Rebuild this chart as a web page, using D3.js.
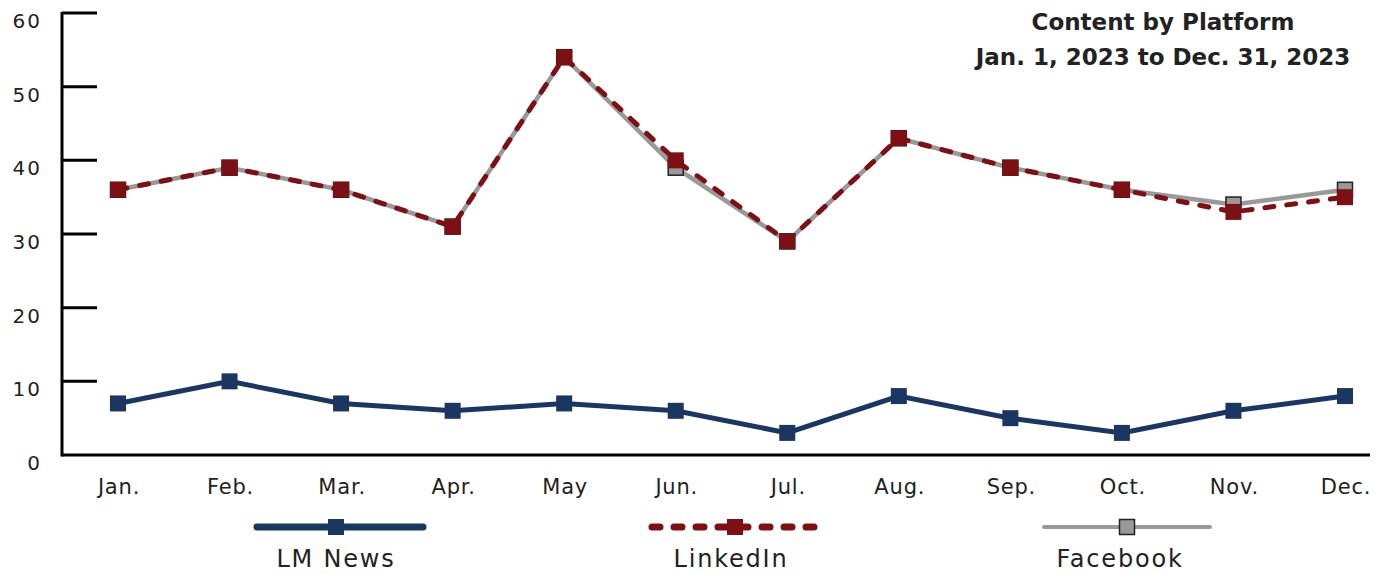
<!DOCTYPE html>
<html>
<head>
<meta charset="utf-8">
<script src="https://cdn.jsdelivr.net/npm/d3@7"></script>
<style>
  body { margin: 0; background: #fff; }
  text { font-family: "DejaVu Sans", "Open Sans", sans-serif; fill: #222; }
</style>
</head>
<body>
<svg id="chart" width="1382" height="573"></svg>
<script>
// data
const months = ['Jan.', 'Feb.', 'Mar.', 'Apr.', 'May', 'Jun.', 'Jul.', 'Aug.', 'Sep.', 'Oct.', 'Nov.', 'Dec.']
const lmNews = [7, 10, 7, 6, 7, 6, 3, 8, 5, 3, 6, 8]
const linkedIn = [36, 39, 36, 31, 54, 40, 29, 43, 39, 36, 33, 35]
const facebook = [36, 39, 36, 31, 54, 39, 29, 43, 39, 36, 34, 36]
const yTicks = [0, 10, 20, 30, 40, 50, 60]
const titleLines = ['Content by Platform', 'Jan. 1, 2023 to Dec. 31, 2023']

const svg = d3.select('#chart')

let x = d3.scalePoint().domain(months).range([118, 1345])
let y = d3.scaleLinear().domain([0, 60]).range([455, 13])

// y axis, ticks point inward, labels sit a bit below their tick
let yAxis = svg.append('g').attr('transform', 'translate(62,0)')
yAxis.append('line')
    .attr('y1', y(60) - 1).attr('y2', y(0) + 1.5)
    .attr('stroke', '#000').attr('stroke-width', 3)
yAxis.selectAll('.tk')
    .data(yTicks.filter(d => d > 0))
    .enter().append('line')
    .attr('x1', 0).attr('x2', 35)
    .attr('y1', d => y(d)).attr('y2', d => y(d))
    .attr('stroke', '#000').attr('stroke-width', 3)
yAxis.selectAll('.lbl')
    .data(yTicks)
    .enter().append('text')
    .attr('x', -20).attr('y', d => y(d) + 15)
    .attr('text-anchor', 'end')
    .style('font-size', '20px')
    .style('letter-spacing', '2px')
    .text(d => d)

// x axis
svg.append('line')
    .attr('x1', 62).attr('x2', 1370)
    .attr('y1', y(0)).attr('y2', y(0))
    .attr('stroke', '#000').attr('stroke-width', 3)
svg.selectAll('.xl')
    .data(months)
    .enter().append('text')
    .attr('x', d => x(d) + 1).attr('y', 494)
    .attr('text-anchor', 'middle')
    .style('font-size', '21px')
    .style('letter-spacing', '0.8px')
    .text(d => d)

// series
let series = [
    { name: 'Facebook', values: facebook, color: '#999999', width: 4.5, dash: null, size: 15, stroke: '#222', legendX: 1127 },
    { name: 'LinkedIn', values: linkedIn, color: '#7c1014', width: 5, dash: '9,13', size: 16, stroke: 'none', legendX: 735 },
    { name: 'LM News', values: lmNews, color: '#1b3660', width: 5, dash: null, size: 16, stroke: 'none', legendX: 340 }
]

let line = d3.line()
    .x((d, i) => x(months[i]))
    .y(d => y(d))

series.forEach(function (s) {
    svg.append('path')
        .attr('d', line(s.values))
        .attr('fill', 'none')
        .attr('stroke', s.color)
        .attr('stroke-width', s.width)
        .attr('stroke-dasharray', s.dash)
        .attr('stroke-linecap', s.dash ? 'round' : 'butt')
    svg.selectAll(null)
        .data(s.values)
        .enter().append('rect')
        .attr('x', (d, i) => x(months[i]) - s.size / 2)
        .attr('y', d => y(d) - s.size / 2)
        .attr('width', s.size).attr('height', s.size)
        .attr('fill', s.color)
        .attr('stroke', s.stroke)
        .attr('stroke-width', 1.5)
})

// legend
let legend = svg.append('g')
series.slice().reverse().forEach(function (s) {
    let cx = s.legendX
    legend.append('line')
        .attr('x1', cx - 83).attr('x2', cx + 83)
        .attr('y1', 527).attr('y2', 527)
        .attr('stroke', s.color)
        .attr('stroke-width', s.name == 'Facebook' ? 4 : 7)
        .attr('stroke-linecap', 'round')
        .attr('stroke-dasharray', s.dash ? '8,14' : null)
    legend.append('rect')
        .attr('x', cx - s.size / 2 - (s.name == 'LM News' ? 4 : 0))
        .attr('y', 527 - s.size / 2)
        .attr('width', s.size).attr('height', s.size)
        .attr('fill', s.color)
        .attr('stroke', s.stroke)
        .attr('stroke-width', 1.5)
    legend.append('text')
        .attr('x', cx - (s.name == 'Facebook' ? 3 : 0) - 4).attr('y', 567)
        .attr('text-anchor', 'middle')
        .style('font-size', '24px')
        .style('letter-spacing', '1.8px')
        .text(s.name)
})

// title, lines centred on each other
svg.selectAll('.title')
    .data(titleLines)
    .enter().append('text')
    .attr('x', 1163).attr('y', (d, i) => 30 + i * 35)
    .attr('text-anchor', 'middle')
    .style('font-size', '23px')
    .style('font-weight', 'bold')
    .text(d => d)
</script>
</body>
</html>
